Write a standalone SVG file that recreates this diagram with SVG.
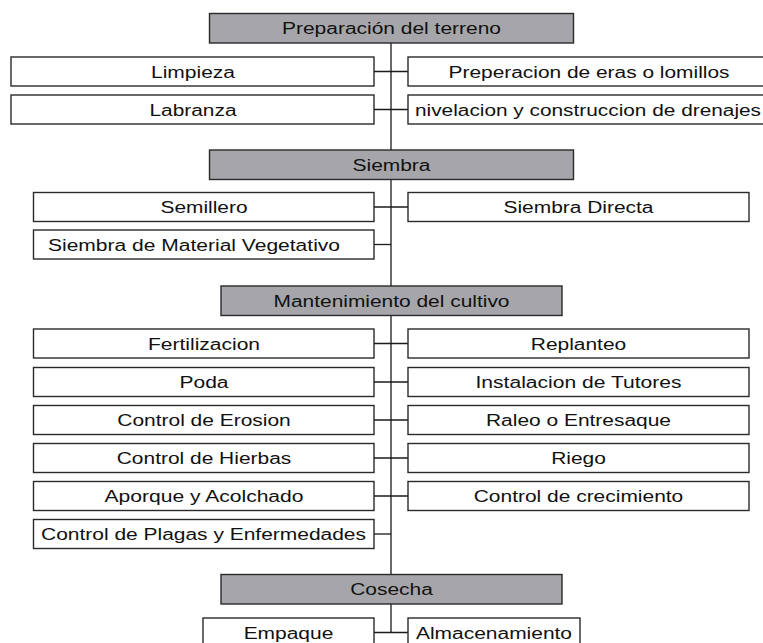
<svg xmlns="http://www.w3.org/2000/svg" width="763" height="643" viewBox="0 0 763 643">
<style>
.hd rect{fill:#a6a6aa;stroke:#2a2a2a;stroke-width:1.4}
.bx rect{fill:#ffffff;stroke:#2a2a2a;stroke-width:1.4}
text{font-family:"Liberation Sans",Arial,sans-serif;font-size:16px;fill:#111;text-anchor:middle}
#connectors line{stroke:#1a1a1a;stroke-width:1.3}
</style>
<rect width="763" height="643" fill="#ffffff"/>
<g id="connectors">
<line x1="391" y1="43" x2="391" y2="632.5"/>
<line x1="374" y1="71.5" x2="408" y2="71.5"/>
<line x1="374" y1="109.5" x2="408" y2="109.5"/>
<line x1="374" y1="207" x2="408" y2="207"/>
<line x1="374" y1="244.5" x2="391" y2="244.5"/>
<line x1="374" y1="343.5" x2="408" y2="343.5"/>
<line x1="374" y1="382" x2="408" y2="382"/>
<line x1="374" y1="420" x2="408" y2="420"/>
<line x1="374" y1="458" x2="408" y2="458"/>
<line x1="374" y1="496" x2="408" y2="496"/>
<line x1="374" y1="534" x2="391" y2="534"/>
<line x1="374" y1="632.5" x2="408" y2="632.5"/>
</g>
<g id="preparacion" class="hd"><rect x="209.5" y="13.5" width="364" height="29.5"/><text x="391.5" y="34" textLength="219" lengthAdjust="spacingAndGlyphs">Preparación del terreno</text></g>
<g id="limpieza" class="bx"><rect x="11" y="57" width="363" height="29"/><text x="193" y="77.5" textLength="84" lengthAdjust="spacingAndGlyphs">Limpieza</text></g>
<g id="eras" class="bx"><rect x="408" y="57" width="361" height="29"/><text x="589" y="77.5" textLength="281" lengthAdjust="spacingAndGlyphs">Preperacion de eras o lomillos</text></g>
<g id="labranza" class="bx"><rect x="11" y="95" width="363" height="29"/><text x="193" y="115.5" textLength="87" lengthAdjust="spacingAndGlyphs">Labranza</text></g>
<g id="nivelacion" class="bx"><rect x="408" y="95" width="361" height="29"/><text x="588" y="115.5" textLength="346" lengthAdjust="spacingAndGlyphs">nivelacion y construccion de drenajes</text></g>
<g id="siembra" class="hd"><rect x="209.5" y="150" width="364" height="29.5"/><text x="391.5" y="170.7" textLength="78" lengthAdjust="spacingAndGlyphs">Siembra</text></g>
<g id="semillero" class="bx"><rect x="33.5" y="192.5" width="340.5" height="29"/><text x="204" y="213" textLength="87" lengthAdjust="spacingAndGlyphs">Semillero</text></g>
<g id="siembra-directa" class="bx"><rect x="408" y="192.5" width="341" height="29"/><text x="578.5" y="213" textLength="150" lengthAdjust="spacingAndGlyphs">Siembra Directa</text></g>
<g id="material-vegetativo" class="bx"><rect x="33.5" y="230" width="340.5" height="29"/><text x="194" y="250.5" textLength="292" lengthAdjust="spacingAndGlyphs">Siembra de Material Vegetativo</text></g>
<g id="mantenimiento" class="hd"><rect x="221" y="286" width="341" height="29.5"/><text x="391.5" y="306.7" textLength="236" lengthAdjust="spacingAndGlyphs">Mantenimiento del cultivo</text></g>
<g id="fertilizacion" class="bx"><rect x="33.5" y="329" width="340.5" height="29"/><text x="204" y="349.5" textLength="112" lengthAdjust="spacingAndGlyphs">Fertilizacion</text></g>
<g id="replanteo" class="bx"><rect x="408" y="329" width="341" height="29"/><text x="578.5" y="349.5" textLength="95.5" lengthAdjust="spacingAndGlyphs">Replanteo</text></g>
<g id="poda" class="bx"><rect x="33.5" y="367.5" width="340.5" height="29"/><text x="204" y="388" textLength="49" lengthAdjust="spacingAndGlyphs">Poda</text></g>
<g id="tutores" class="bx"><rect x="408" y="367.5" width="341" height="29"/><text x="578.5" y="388" textLength="206" lengthAdjust="spacingAndGlyphs">Instalacion de Tutores</text></g>
<g id="erosion" class="bx"><rect x="33.5" y="405.5" width="340.5" height="29"/><text x="204" y="426" textLength="173.5" lengthAdjust="spacingAndGlyphs">Control de Erosion</text></g>
<g id="raleo" class="bx"><rect x="408" y="405.5" width="341" height="29"/><text x="578.5" y="426" textLength="185" lengthAdjust="spacingAndGlyphs">Raleo o Entresaque</text></g>
<g id="hierbas" class="bx"><rect x="33.5" y="443.5" width="340.5" height="29"/><text x="204" y="464" textLength="174.5" lengthAdjust="spacingAndGlyphs">Control de Hierbas</text></g>
<g id="riego" class="bx"><rect x="408" y="443.5" width="341" height="29"/><text x="578.5" y="464" textLength="54.7" lengthAdjust="spacingAndGlyphs">Riego</text></g>
<g id="aporque" class="bx"><rect x="33.5" y="481.5" width="340.5" height="29"/><text x="204" y="502" textLength="199" lengthAdjust="spacingAndGlyphs">Aporque y Acolchado</text></g>
<g id="crecimiento" class="bx"><rect x="408" y="481.5" width="341" height="29"/><text x="578.5" y="502" textLength="209.5" lengthAdjust="spacingAndGlyphs">Control de crecimiento</text></g>
<g id="plagas" class="bx"><rect x="33.5" y="519.5" width="340.5" height="29"/><text x="203.5" y="540" textLength="325" lengthAdjust="spacingAndGlyphs">Control de Plagas y Enfermedades</text></g>
<g id="cosecha" class="hd"><rect x="221" y="574.5" width="341" height="29.5"/><text x="391.5" y="595.2" textLength="82.7" lengthAdjust="spacingAndGlyphs">Cosecha</text></g>
<g id="empaque" class="bx"><rect x="203" y="618" width="171" height="29"/><text x="288.5" y="638.5" textLength="89.7" lengthAdjust="spacingAndGlyphs">Empaque</text></g>
<g id="almacenamiento" class="bx"><rect x="408" y="618" width="172" height="29"/><text x="494" y="638.5" textLength="156" lengthAdjust="spacingAndGlyphs">Almacenamiento</text></g>
</svg>
